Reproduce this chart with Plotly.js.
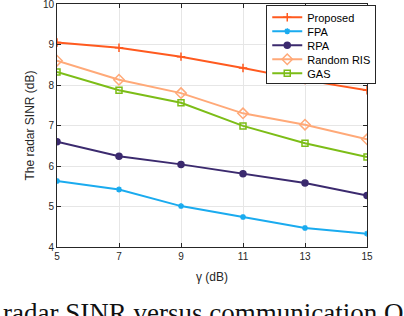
<!DOCTYPE html>
<html><head><meta charset="utf-8">
<script src="https://cdn.plot.ly/plotly-3.0.1.min.js"></script>
<style>html,body{margin:0;padding:0;background:#fff;}#c{width:404px;height:316px;}</style>
</head><body><div id="c"></div>
<script>
const gamma = [5, 7, 9, 11, 13, 15];
const proposed = [9.05, 8.92, 8.70, 8.42, 8.12, 7.87];
const fpa = [5.63, 5.42, 5.01, 4.74, 4.47, 4.33];
const rpa = [6.60, 6.24, 6.04, 5.81, 5.58, 5.27];
const randomRis = [8.60, 8.13, 7.80, 7.30, 7.02, 6.66];
const gas = [8.32, 7.87, 7.56, 6.99, 6.56, 6.22];
const xTicks = [5, 7, 9, 11, 13, 15];
const yTicks = [4, 5, 6, 7, 8, 9, 10];

const mk = (name, y, color, symbol, size) => ({
  x: gamma, y: y, name: name, type: 'scatter', mode: 'lines+markers',
  line: {color: color, width: 2},
  marker: {symbol: symbol, size: size, color: color, line: {color: color, width: 1.5}}
});
const traces = [
  mk('Proposed', proposed, '#ff5a1f', 'cross-thin', 6),
  mk('FPA', fpa, '#1aabef', 'asterisk', 5),
  mk('RPA', rpa, '#3b2a6e', 'circle', 6),
  mk('Random RIS', randomRis, '#ffa978', 'diamond-open', 8),
  mk('GAS', gas, '#7cbd17', 'square-open', 6)
];
const axisCommon = {
  showline: true, mirror: 'ticks', linecolor: '#262626', linewidth: 1,
  ticks: 'inside', ticklen: 4, tickcolor: '#262626',
  showgrid: true, gridcolor: '#e6e6e6', gridwidth: 1, zeroline: false,
  ticklabeloverflow: 'allow',
  tickfont: {family: 'Liberation Sans, Arial', size: 10, color: '#262626'}
};
const layout = {
  width: 404, height: 316,
  margin: {l: 57, r: 37, t: 4, b: 69},
  paper_bgcolor: '#fff', plot_bgcolor: '#fff',
  showlegend: true,
  legend: {x: 0.675, y: 0.997, xanchor: 'left', yanchor: 'top',
    bgcolor: '#fff', bordercolor: '#262626', borderwidth: 1,
    font: {family: 'Liberation Sans, Arial', size: 11, color: '#000'},
    tracegroupgap: 0, itemwidth: 30},
  xaxis: Object.assign({}, axisCommon, {range: [5, 15], tickvals: xTicks,
    title: {text: 'γ (dB)', font: {family: 'Liberation Sans, Arial', size: 12, color: '#262626'}, standoff: 11}}),
  yaxis: Object.assign({}, axisCommon, {range: [4, 10], tickvals: yTicks,
    title: {text: 'The radar SINR (dB)', font: {family: 'Liberation Sans, Arial', size: 12, color: '#262626'}, standoff: 5}}),
  annotations: [{
    text: 'radar SINR versus communication Q', xref: 'paper', yref: 'paper',
    x: -0.18, y: -0.27, xanchor: 'left', yanchor: 'middle', showarrow: false,
    font: {family: 'Liberation Serif, Times New Roman', size: 27, color: '#111'}
  }]
};
const gd = document.getElementById('c');
Plotly.newPlot(gd, traces, layout, {displayModeBar: false, staticPlot: true}).then(() => {
  // tighten legend row spacing to match the compact reference legend
  const items = gd.querySelectorAll('.legend .traces');
  const step = 14;
  let y0 = null;
  items.forEach((el, i) => {
    const m = /translate\(([-\d.]+)[ ,]+([-\d.]+)\)/.exec(el.getAttribute('transform') || '');
    if (!m) return;
    if (y0 === null) y0 = parseFloat(m[2]) - 3;
    el.setAttribute('transform', 'translate(' + m[1] + ',' + (y0 + step * i) + ')');
  });
  const bg = gd.querySelector('.legend .bg');
  if (bg && items.length) {
    const h = y0 + step * (items.length - 1) + 10;
    bg.setAttribute('height', h);
  }
});
</script>
</body></html>
